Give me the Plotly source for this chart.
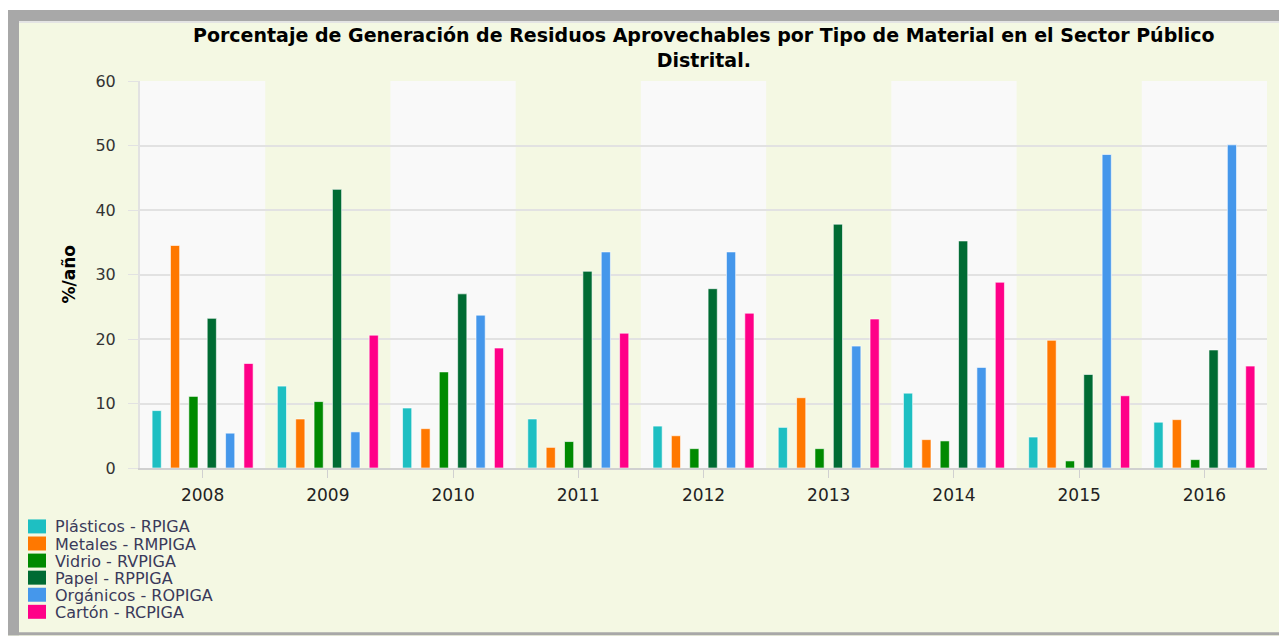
import plotly.graph_objects as go

years = ["2008", "2009", "2010", "2011", "2012", "2013", "2014", "2015", "2016"]

plasticos = [8.9, 12.7, 9.3, 7.6, 6.5, 6.3, 11.6, 4.8, 7.1]
metales = [34.5, 7.6, 6.1, 3.2, 5.0, 10.9, 4.4, 19.8, 7.5]
vidrio = [11.1, 10.3, 14.9, 4.1, 3.0, 3.0, 4.2, 1.1, 1.3]
papel = [23.2, 43.2, 27.0, 30.5, 27.8, 37.8, 35.2, 14.5, 18.3]
organicos = [5.4, 5.6, 23.7, 33.5, 33.5, 18.9, 15.6, 48.6, 50.1]
carton = [16.2, 20.6, 18.6, 20.9, 24.0, 23.1, 28.8, 11.2, 15.8]

series_names = ["Plásticos - RPIGA", "Metales - RMPIGA", "Vidrio - RVPIGA",
                "Papel - RPPIGA", "Orgánicos - ROPIGA", "Cartón - RCPIGA"]
series_values = [plasticos, metales, vidrio, papel, organicos, carton]
series_colors = ["#1ebfc2", "#ff7800", "#008a00", "#006b33", "#4597eb", "#ff0088"]

# page body has an 8px margin: figure coords = screen coords - 8
OFF = 8
W, H = 1287 - OFF, 636 - OFF
PL, PR, PT, PB = 140 - OFF, 1267 - OFF, 81 - OFF, 468.5 - OFF
BG = "#f4f8e3"
BAND = "#f9f9f9"
FRAME = "#a8a8a8"


def px(xp):
    return (xp - PL) / (PR - PL)


def py(yp):
    return (PB - yp) / (PB - PT)


fig = go.Figure()
for name, vals, col in zip(series_names, series_values, series_colors):
    fig.add_trace(go.Bar(
        x=years, y=vals, name=name, showlegend=False,
        marker=dict(color=col, line=dict(color="rgba(255,255,255,0.6)", width=1)),
    ))

shapes = []
# alternating plot bands
for i in range(len(years)):
    if i % 2 == 0:
        shapes.append(dict(type="rect", xref="x", yref="paper", x0=i - 0.5, x1=i + 0.5,
                           y0=0, y1=1, fillcolor=BAND, line=dict(width=0), layer="below"))
# outer frame
shapes += [
    dict(type="rect", xref="paper", yref="paper", x0=px(0), x1=px(W), y0=py(0), y1=py(2),
         fillcolor="white", line=dict(width=0), layer="below"),
    dict(type="rect", xref="paper", yref="paper", x0=px(0), x1=px(W), y0=py(2), y1=py(13),
         fillcolor=FRAME, line=dict(width=0), layer="below"),
    dict(type="rect", xref="paper", yref="paper", x0=px(11), x1=px(W), y0=py(13), y1=py(15),
         fillcolor="#e4e4e4", line=dict(width=0), layer="below"),
    dict(type="rect", xref="paper", yref="paper", x0=px(0), x1=px(11), y0=py(2), y1=py(H),
         fillcolor=FRAME, line=dict(width=0), layer="below"),
    dict(type="rect", xref="paper", yref="paper", x0=px(0), x1=px(W), y0=py(625), y1=py(H),
         fillcolor=FRAME, line=dict(width=0), layer="below"),
]

annotations = []
# title (two centred lines in one text block)
title_text = ("Porcentaje de Generación de Residuos Aprovechables por Tipo de Material en el Sector Público"
              "<br>Distrital.")
annotations.append(dict(xref="paper", yref="paper", x=0.5, y=py(47 - OFF),
                        xanchor="center", yanchor="middle", showarrow=False, text=title_text,
                        font=dict(family="DejaVu Sans", size=19, color="#000000", weight="bold")))

# custom legend (squares + labels)
leg_y0, leg_step = 527 - OFF, 17.1
for k, (name, col) in enumerate(zip(series_names, series_colors)):
    cy = leg_y0 + k * leg_step
    shapes.append(dict(type="rect", xref="paper", yref="paper",
                       x0=px(28 - OFF), x1=px(46 - OFF), y0=py(cy - 7), y1=py(cy + 7),
                       fillcolor=col, line=dict(width=0)))
    annotations.append(dict(xref="paper", yref="paper", x=px(53 - OFF), y=py(cy + 0.5),
                            xanchor="left", yanchor="middle", showarrow=False, text=name,
                            font=dict(family="DejaVu Sans", size=16, color="#3a3a5a")))

# y axis title
annotations.append(dict(xref="paper", yref="paper", x=px(68 - OFF), y=0.5,
                        xanchor="center", yanchor="middle", showarrow=False, textangle=-90,
                        text="%/año",
                        font=dict(family="DejaVu Sans", size=17, color="#000000", weight="bold")))

fig.update_layout(
    width=W, height=H,
    margin=dict(l=PL, r=W - PR, t=PT, b=H - PB, autoexpand=False),
    paper_bgcolor=BG, plot_bgcolor=BG,
    barmode="group", bargap=0.12, bargroupgap=0.5,
    shapes=shapes, annotations=annotations,
    showlegend=False,
    font=dict(family="DejaVu Sans", color="#333333"),
    xaxis=dict(
        type="category", showgrid=False, showline=True, linecolor="#d0d0d0", linewidth=2,
        ticks="outside", ticklen=8, tickcolor="#d0d0d0", tickwidth=1,
        tickfont=dict(family="DejaVu Sans", size=17, color="#222222"),
        ticklabelstandoff=3, range=[-0.5, len(years) - 0.5],
    ),
    yaxis=dict(
        range=[0, 60], dtick=10, showgrid=True, gridcolor="#e2e2e2", gridwidth=1.5,
        showline=True, linecolor="#e2e2e2", linewidth=2, zeroline=False,
        ticks="outside", ticklen=10, tickcolor="#e2e2e2", tickwidth=1,
        tickfont=dict(family="DejaVu Sans", size=16, color="#333333"),
        ticklabelstandoff=9,
    ),
)

fig.write_html("out.html")
